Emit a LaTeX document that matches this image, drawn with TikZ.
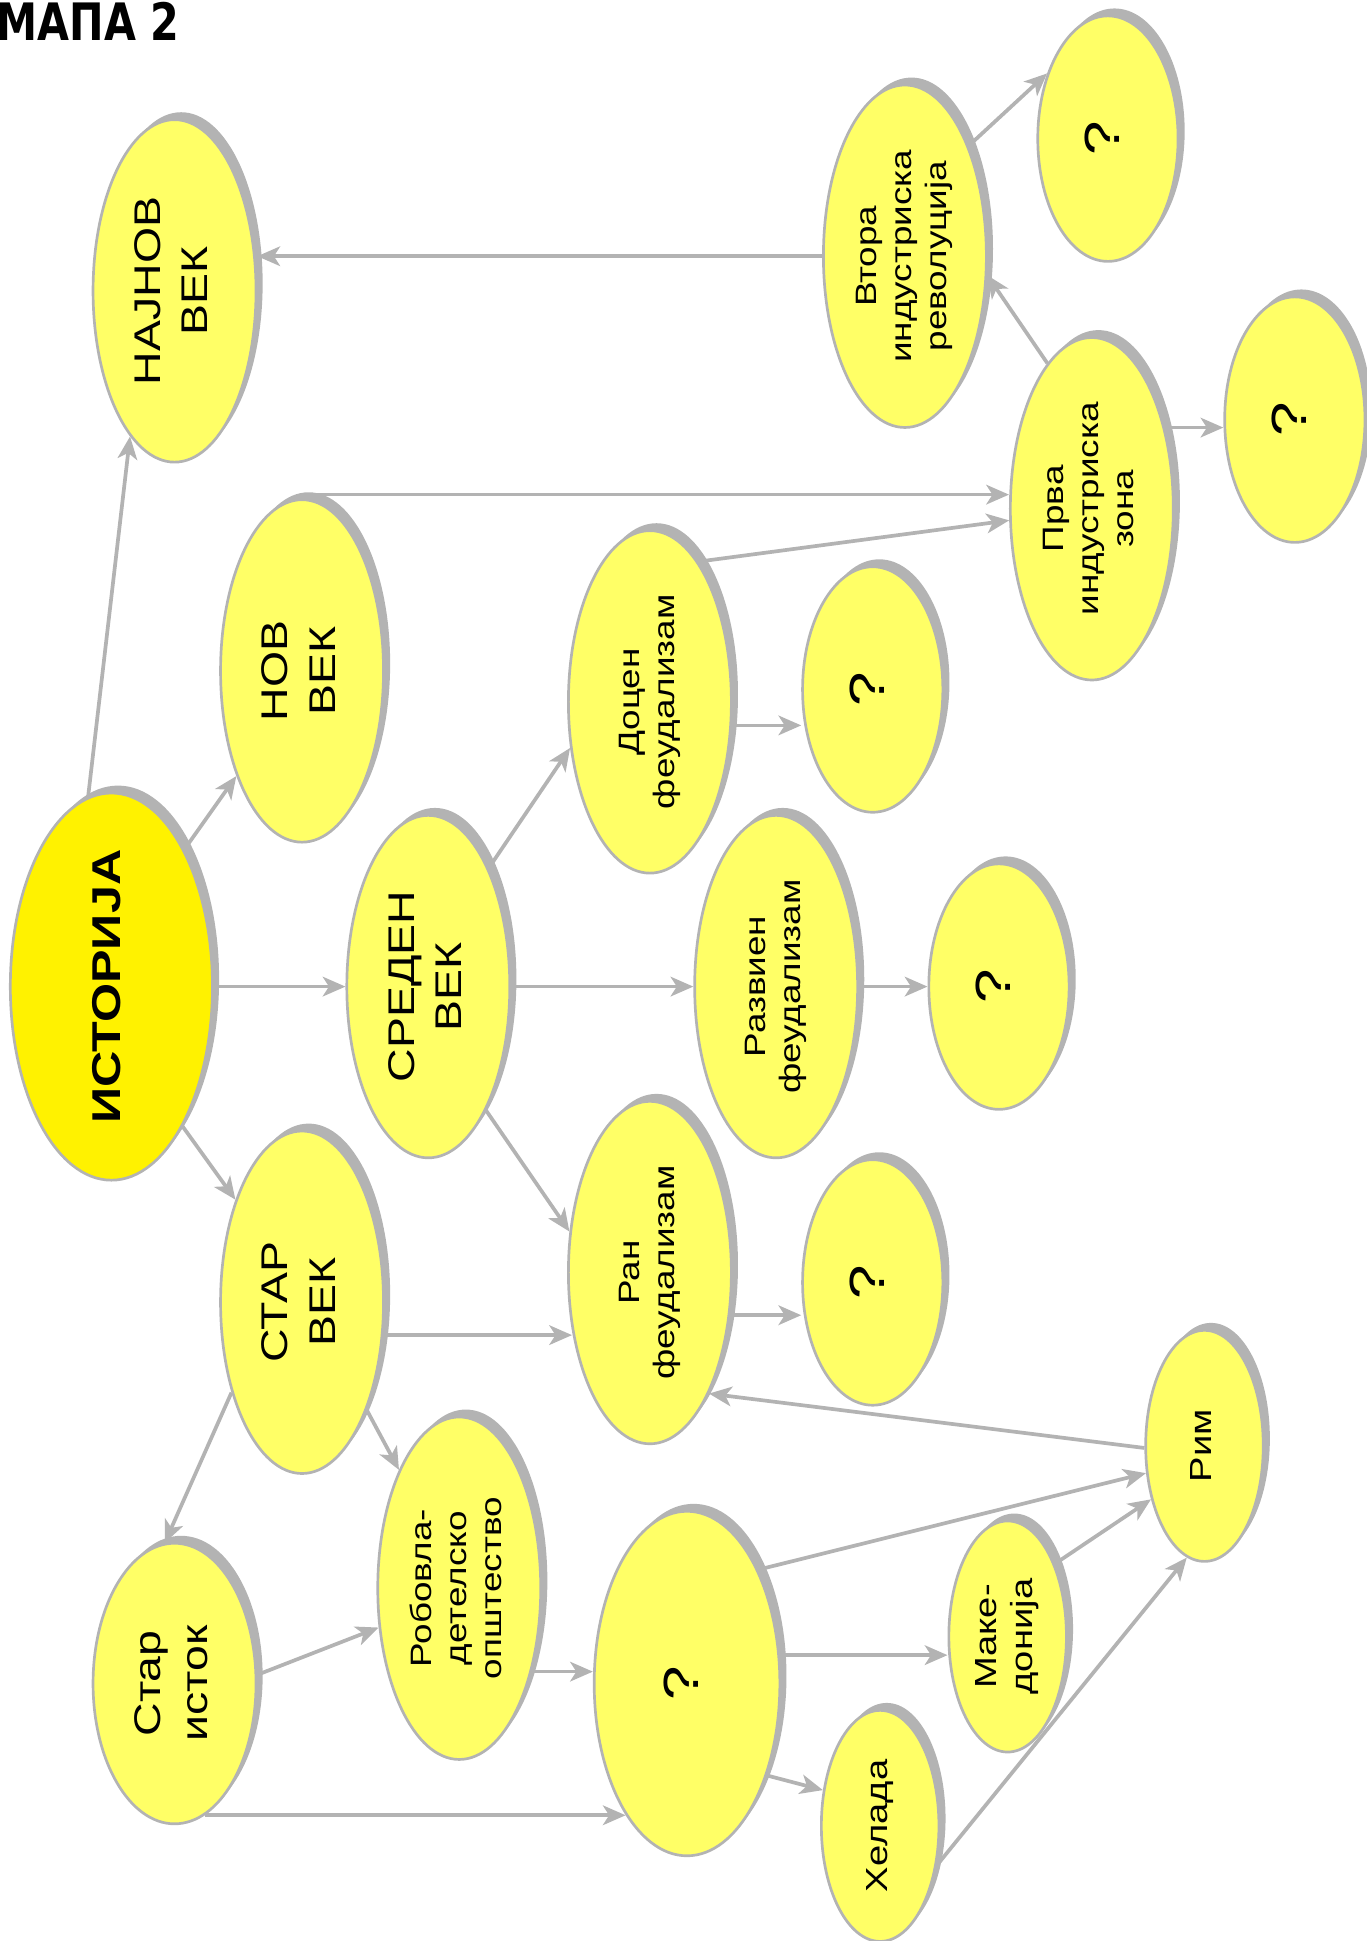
\documentclass[tikz,border=0pt]{standalone}
\usepackage{fontspec}
\setmainfont{Liberation Sans}
\newfontfamily\titlefont{DejaVu Sans}
\usepackage{graphicx}
\usetikzlibrary{shapes.geometric,shadows,arrows.meta}

\definecolor{pale}{HTML}{FFFF66}
\definecolor{lgray}{HTML}{B3B3B3}

% rotated (and a bit stretched) label text
\newcommand{\vlab}[1]{\scalebox{1}[1.25]{\rotatebox{90}{\begin{tabular}{@{}c@{}}#1\end{tabular}}}}

\tikzset{
  era/.style={ellipse, draw=lgray, line width=1.3pt, fill=pale, inner sep=0pt,
    drop shadow={shadow xshift=3.2pt, shadow yshift=3.6pt, fill=lgray, opacity=1}},
  big/.style={era, minimum width=79pt, minimum height=166pt, font=\fontsize{18}{23}\selectfont},
  mid/.style={era, minimum width=79pt, minimum height=166pt, font=\fontsize{14.3}{17}\selectfont},
  quest/.style={era, minimum width=68pt, minimum height=119pt, font=\fontsize{24}{28}\selectfont},
  land/.style={era, minimum width=57pt, minimum height=112pt, font=\fontsize{14.8}{17.5}\selectfont},
  link/.style={draw=lgray, line width=1.8pt, -{Stealth[length=11pt, width=9.5pt, inset=3pt]}},
}

\begin{document}
\begin{tikzpicture}[x=0.6pt, y=-0.6pt]
\useasboundingbox (0,0) rectangle (1104,1568);

\node[anchor=base west, inner sep=0pt, font={\titlefont\bfseries\fontsize{20}{24}\selectfont}] (title) at (-3,33) {\scalebox{1}[1.25]{МАПА 2}};

\node[era, fill=yellow, minimum width=98pt, minimum height=184pt, font=\bfseries\fontsize{19.5}{23}\selectfont] (hist) at (90,797) {\vlab{ИСТОРИЈА}};

\node[big] (najnov) at (141,235) {\vlab{НАЈНОВ\\ВЕК}};
\node[big] (nov) at (244,542) {\vlab{НОВ\\ВЕК}};
\node[big] (sreden) at (346,797) {\vlab{СРЕДЕН\\ВЕК}};
\node[big] (star) at (244,1052) {\vlab{СТАР\\ВЕК}};
\node[big, minimum height=136pt] (istok) at (141,1360) {\vlab{Стар\\исток}};

\node[mid] (robov) at (371,1283) {\vlab{Робовла-\\детелско\\општество}};
\node[quest, minimum width=90pt, minimum height=167pt] (antika) at (555,1360) {\vlab{?}};
\node[land] (helada) at (711,1475) {\vlab{Хелада}};
\node[land] (maked) at (814,1322) {\vlab{Маке-\\донија}};
\node[land] (rim) at (973,1168) {\vlab{Рим}};

\node[mid] (ran) at (525,1028) {\vlab{Ран\\феудализам}};
\node[quest] (ranq) at (705,1036) {\vlab{?}};
\node[mid] (razvien) at (627,797) {\vlab{Развиен\\феудализам}};
\node[quest] (razq) at (807,797) {\vlab{?}};
\node[mid] (docen) at (525,567) {\vlab{Доцен\\феудализам}};
\node[quest] (docq) at (705,557) {\vlab{?}};

\node[mid] (prva) at (882,411) {\vlab{Прва\\индустриска\\зона}};
\node[quest] (prvaq) at (1046,339) {\vlab{?}};
\node[mid] (vtora) at (731,207) {\vlab{Втора\\индустриска\\револуција}};
\node[quest] (vtoraq) at (895,112) {\vlab{?}};

% links out of the root
\draw[link] (hist.97) to (najnov.253);
\draw[link] (hist.62) to (nov.238);
\draw[link] (hist) to (sreden);
\draw[link] (hist.297) to (star.123);

% old age
\draw[link] (star.232) to (istok.94);
\draw[link] (star.301) to (robov.117);
\draw[link] (star.338) to (star.338 -| ran.217);
\draw[link] (istok.6) to (robov.206);
\draw[link] (istok.283) to (istok.283 -| antika.245);
\draw[link] (robov.311) to (robov.311 -| antika.west);
\draw[link] (antika.311) to (helada.148);
\draw[link] (antika.17) to (antika.17 -| maked.west);
\draw[link] (antika.58) to (rim.205);
\draw[link] (maked.57) to (rim.225);
\draw[link] (helada.325) to (rim.261);
\draw[link] (rim.182) to (ran.296);

% middle age
\draw[link] (ran.332) to (ran.332 -| ranq.west);
\draw[link] (sreden.295) to (ran.153);
\draw[link] (sreden) to (razvien);
\draw[link] (razvien) to (razq);
\draw[link] (sreden.63) to (docen.210);
\draw[link] (docen.344) to (docen.344 -| docq.west);
\draw[link] (docen.71) to (prva.188);

% new age
\draw[link] ([yshift=1.8pt]nov.north) to ([yshift=1.8pt]nov.north -| prva.west);
\draw[link] (prva.48) to (prva.48 -| prvaq.west);
\draw[link] (prva.107) to (vtora.347);
\draw[link] (vtora.60) to (vtoraq.133);
\draw[link] (vtora.west) to (vtora.west -| najnov.east);
\end{tikzpicture}
\end{document}
